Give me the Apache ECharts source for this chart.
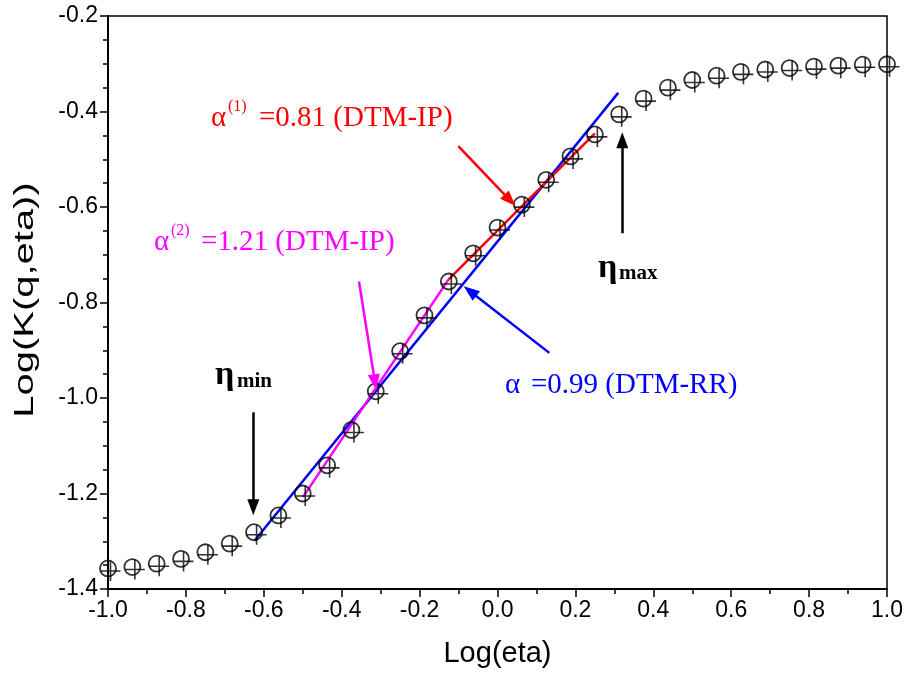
<!DOCTYPE html>
<html><head><meta charset="utf-8">
<script src="https://cdn.jsdelivr.net/npm/echarts@6/dist/echarts.min.js"></script>
<style>html,body{margin:0;padding:0;background:#fff}#c{width:907px;height:677px}</style>
</head><body><div id="c"></div>
<script>
// ---- data ----
const logEta = [-1.0, -0.9375, -0.875, -0.8125, -0.75, -0.6875, -0.625, -0.5625, -0.5, -0.4375, -0.375, -0.3125,
  -0.25, -0.1875, -0.125, -0.0625, 0.0, 0.0625, 0.125, 0.1875, 0.25, 0.3125, 0.375, 0.4375, 0.5, 0.5625,
  0.625, 0.6875, 0.75, 0.8125, 0.875, 0.9375, 1.0];
const logK = [-1.357, -1.354, -1.347, -1.337, -1.323, -1.305, -1.281, -1.246, -1.200, -1.141, -1.067, -0.986,
  -0.902, -0.827, -0.756, -0.697, -0.643, -0.595, -0.543, -0.494, -0.448, -0.406, -0.373, -0.350, -0.334, -0.325,
  -0.317, -0.312, -0.309, -0.306, -0.304, -0.302, -0.301];
const fitRR_x = [-0.624, 0.310];
const fitRR_y = [-1.299, -0.361];
const fitIP2_x = [-0.499, -0.126];
const fitIP2_y = [-1.207, -0.752];
const fitIP1_x = [-0.126, 0.250];
const fitIP1_y = [-0.752, -0.446];
const arrowIP1 = [[-0.1006, -0.4727], [0.0321, -0.586]];
const arrowIP2 = [[-0.3556, -0.756], [-0.3145, -0.967]];
const arrowRR = [[0.133, -0.9055], [-0.0706, -0.7763]];
const arrowMin = [[-0.627, -1.030], [-0.627, -1.229]];
const arrowMax = [[0.3204, -0.655], [0.3204, -0.460]];
const xTitle = 'Log(eta)';
const yTitle = 'Log(K(q,eta))';

const pts = logEta.map((x, i) => [x, logK[i]]);
const pair = (xs, ys) => xs.map((x, i) => [x, ys[i]]);

const serif = '"Liberation Serif","Times New Roman",serif';
const sans = '"Liberation Sans",Arial,sans-serif';

function arrow(coords, color) {
  return {
    type: 'line', data: [], silent: true,
    markLine: {
      silent: true, symbol: ['none', 'triangle'], symbolSize: [12, 16],
      label: {show: false},
      lineStyle: {color: color, width: 2.5, type: 'solid'},
      data: [[{coord: coords[0]}, {coord: coords[1]}]]
    }
  };
}

const chart = echarts.init(document.getElementById('c'));
chart.setOption({
  animation: false,
  backgroundColor: '#fff',
  grid: {left: 108, right: 20, top: 16, bottom: 88, show: true, borderColor: '#000', borderWidth: 1.5},
  xAxis: {
    type: 'value', min: -1, max: 1, interval: 0.2,
    name: xTitle, nameLocation: 'middle', nameGap: 50,
    nameTextStyle: {fontFamily: sans, fontSize: 29, color: '#000'},
    axisLine: {show: true, onZero: false, lineStyle: {color: '#000', width: 2}},
    axisTick: {show: true, inside: false, length: 8, lineStyle: {color: '#000', width: 1.5}},
    minorTick: {show: true, splitNumber: 2, length: 5, lineStyle: {color: '#000', width: 1.5}},
    splitLine: {show: false},
    axisLabel: {color: '#000', fontFamily: sans, fontSize: 23, margin: 10, formatter: v => v.toFixed(1)}
  },
  yAxis: {
    type: 'value', min: -1.4, max: -0.2, interval: 0.2,
    axisLine: {show: true, onZero: false, lineStyle: {color: '#000', width: 2}},
    axisTick: {show: true, inside: false, length: 8, lineStyle: {color: '#000', width: 1.5}},
    minorTick: {show: true, splitNumber: 4, length: 5, lineStyle: {color: '#000', width: 1.5}},
    splitLine: {show: false},
    axisLabel: {color: '#000', fontFamily: sans, fontSize: 23, margin: 10, formatter: v => v.toFixed(1)}
  },
  series: [
    {type: 'line', data: pair(fitRR_x, fitRR_y), symbol: 'none', lineStyle: {color: '#0000ff', width: 2.5}, z: 3},
    {type: 'line', data: pair(fitIP2_x, fitIP2_y), symbol: 'none', lineStyle: {color: '#ff00ff', width: 2.5}, z: 3},
    {type: 'line', data: pair(fitIP1_x, fitIP1_y), symbol: 'none', lineStyle: {color: '#ff0000', width: 2.5}, z: 3},
    {type: 'scatter', data: pts, symbol: 'circle', symbolSize: 16, z: 4,
      itemStyle: {color: 'rgba(0,0,0,0)', borderColor: '#000', borderWidth: 1.8}},
    {type: 'scatter', data: pts, symbol: 'path://M0,10L20,10M10,0L10,20', symbolSize: 20, symbolOffset: [2.5, 2.5], z: 4,
      itemStyle: {color: 'none', borderColor: '#000', borderWidth: 1.6}},
    arrow(arrowIP1, '#ff0000'),
    arrow(arrowIP2, '#ff00ff'),
    arrow(arrowRR, '#0000ff'),
    arrow(arrowMin, '#000000'),
    arrow(arrowMax, '#000000')
  ],
  graphic: [
    // y-axis title
    {type: 'text', x: 26, y: 300, rotation: Math.PI / 2, scaleX: 1.48,
      style: {text: yTitle, font: '27px ' + sans, fill: '#000', align: 'center', verticalAlign: 'middle'}},
    // red label
    {type: 'text', left: 211, top: 104, style: {text: 'α', font: '29px ' + serif, fill: '#ff0000'}},
    {type: 'text', left: 228, top: 99, style: {text: '(1)', font: '16px ' + serif, fill: '#ff0000'}},
    {type: 'text', left: 259, top: 104, style: {text: '=0.81 (DTM-IP)', font: '29px ' + serif, fill: '#ff0000'}},
    // magenta label
    {type: 'text', left: 154, top: 228, style: {text: 'α', font: '29px ' + serif, fill: '#ff00ff'}},
    {type: 'text', left: 171, top: 223, style: {text: '(2)', font: '16px ' + serif, fill: '#ff00ff'}},
    {type: 'text', left: 201, top: 228, style: {text: '=1.21 (DTM-IP)', font: '29px ' + serif, fill: '#ff00ff'}},
    // blue label
    {type: 'text', left: 505, top: 371, style: {text: 'α', font: '29px ' + serif, fill: '#0000ff'}},
    {type: 'text', left: 531, top: 371, style: {text: '=0.99 (DTM-RR)', font: '29px ' + serif, fill: '#0000ff'}},
    // eta min / max
    {type: 'text', left: 215, top: 358, style: {text: 'η', font: 'bold 34px ' + serif, fill: '#000'}},
    {type: 'text', left: 237, top: 371, style: {text: 'min', font: 'bold 21px ' + serif, fill: '#000'}},
    {type: 'text', left: 598, top: 251, style: {text: 'η', font: 'bold 34px ' + serif, fill: '#000'}},
    {type: 'text', left: 619, top: 263, style: {text: 'max', font: 'bold 21px ' + serif, fill: '#000'}}
  ]
});
</script>
</body></html>
